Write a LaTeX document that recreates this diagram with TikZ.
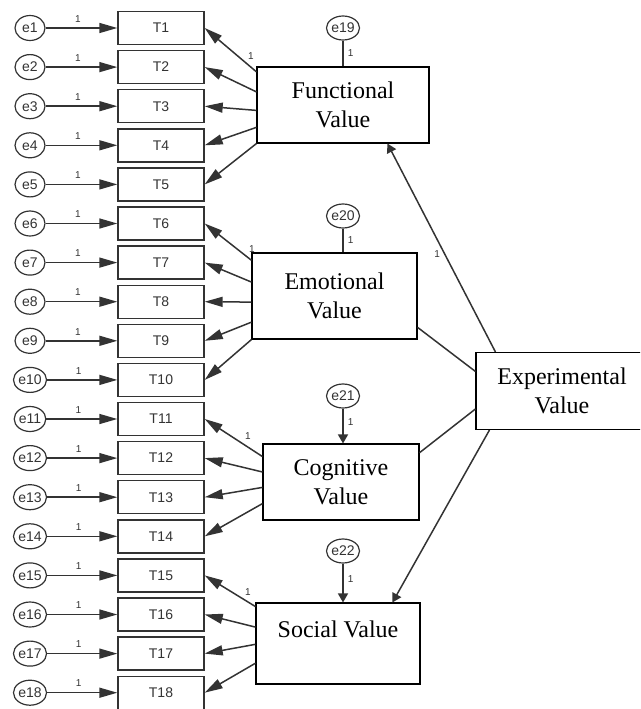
\documentclass[tikz,border=0pt]{standalone}
\usepackage{fontspec}
\setmainfont{Liberation Serif}
\newfontfamily\labelfont{Liberation Sans}
\usetikzlibrary{shapes.geometric,arrows.meta,calc}
\definecolor{ink}{HTML}{333333}
\tikzset{
  item/.style={draw=ink, line width=1.4pt, minimum width=86pt, minimum height=33pt,
    inner sep=0pt, font=\labelfont\fontsize{14}{14}\selectfont, text=ink},
  err/.style={ellipse, draw=ink, line width=1.2pt, minimum width=30pt, minimum height=25pt,
    inner sep=0pt, font=\labelfont\fontsize{14}{14}\selectfont, text=ink},
  latent/.style={draw=black, line width=1.1pt, inner sep=0pt, align=center,
    font=\fontsize{24}{29}\selectfont},
  path/.style={draw=ink, line width=1.5pt},
  arr/.style={path, -{Triangle[length=18pt,width=10pt]}},
  shortarr/.style={path, -{Triangle[length=9pt,width=10pt]}},
  one/.style={font=\labelfont\fontsize{10}{10}\selectfont, text=ink, inner sep=0pt}
}
\begin{document}
\begin{tikzpicture}[x=1pt,y=-1pt]
\useasboundingbox (0,0) rectangle (640,709);
\clip (0,0) rectangle (640,709);

% observed items and their error terms
\foreach \i in {1,...,18}{
  \pgfmathsetmacro\yy{28+39.1*(\i-1)}
  \node[item] (T\i) at (161,\yy) {T\i};
  \node[err] (e\i) at (30,\yy) {e\i};
  \draw[arr] (e\i) -- (T\i.west) node[one, pos=0.45, above=5pt] {1};
}

% latent constructs
\node[latent, minimum width=172pt, minimum height=76pt] (fv) at (343,105) {Functional\\Value};
\node[latent, minimum width=165pt, minimum height=86pt] (ev) at (334.5,296) {Emotional\\Value};
\node[latent, minimum width=156pt, minimum height=76pt] (cv) at (341,482) {Cognitive\\Value};
\node[latent, minimum width=164pt, minimum height=81pt] (sv) at (338,643.5) {Social Value\\\mbox{}};
\node[latent, minimum width=172pt, minimum height=77pt] (xv) at (562,391) {Experimental\\Value};

% disturbances of the first-order constructs
\node[err, minimum width=31pt, minimum height=24pt] (e19) at (343,28) {e19};
\node[err, minimum width=31pt, minimum height=24pt] (e20) at (343,216) {e20};
\node[err, minimum width=31pt, minimum height=24pt] (e21) at (343,396) {e21};
\node[err, minimum width=31pt, minimum height=24pt] (e22) at (343,551) {e22};
\draw[path] (e19) -- (e19 |- fv.north) node[one, midway, right=4pt] {1};
\draw[path] (e20) -- (e20 |- ev.north) node[one, midway, right=4pt] {1};
\draw[shortarr] (e21) -- (e21 |- cv.north) node[one, pos=0.4, right=4pt] {1};
\draw[shortarr] (e22) -- (e22 |- sv.north) node[one, pos=0.4, right=4pt] {1};

% factor loadings
\foreach \f/\t in {0.07/1,0.33/2,0.57/3,0.79/4,1.0/5}
  \draw[arr] ($(fv.north west)!\f!(fv.south west)$) -- (T\t.east);
\foreach \f/\t in {0.09/6,0.34/7,0.57/8,0.80/9,1.0/10}
  \draw[arr] ($(ev.north west)!\f!(ev.south west)$) -- (T\t.east);
\foreach \f/\t in {0.17/11,0.37/12,0.57/13,0.78/14}
  \draw[arr] ($(cv.north west)!\f!(cv.south west)$) -- (T\t.east);
\foreach \f/\t in {0.05/15,0.30/16,0.51/17,0.74/18}
  \draw[arr] ($(sv.north west)!\f!(sv.south west)$) -- (T\t.east);
\node[one] (lf) at (251,56) {1};
\node[one] (le) at (252,249) {1};
\node[one] (lc) at (248,436) {1};
\node[one] (ls) at (248,592) {1};

% second-order paths
\draw[shortarr] ($(xv.north west)+(20,0)$) -- ($(fv.south west)+(131,0)$)
  node[one, pos=0.47, left=4pt] {1};
\draw[path] ($(xv.north west)!0.25!(xv.south west)$) -- ($(ev.north east)!0.86!(ev.south east)$);
\draw[path] ($(xv.north west)!0.73!(xv.south west)$) -- ($(cv.north east)!0.12!(cv.south east)$);
\draw[shortarr] ($(xv.south west)+(14,0)$) -- ($(sv.north west)+(137,0)$);
\end{tikzpicture}
\end{document}
